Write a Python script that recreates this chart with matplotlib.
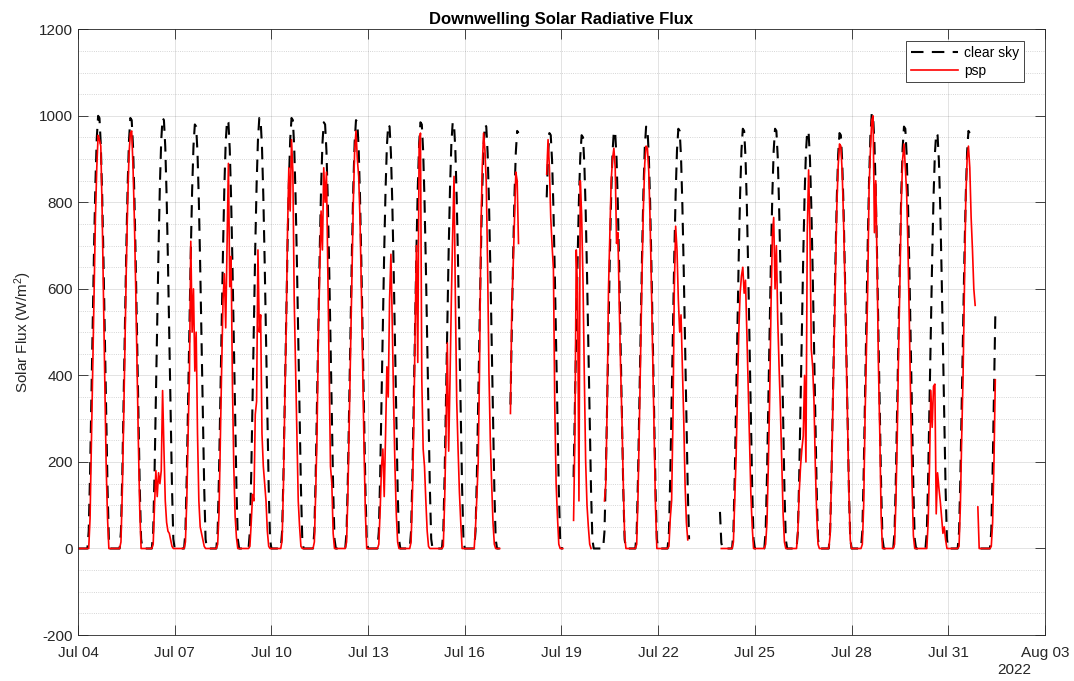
import numpy as np
import pandas as pd
import matplotlib
matplotlib.use('Agg')
import matplotlib.pyplot as plt
import matplotlib.dates as mdates
from matplotlib.ticker import MultipleLocator

plt.rcParams['font.family'] = ['Liberation Sans', 'DejaVu Sans']
plt.rcParams['mathtext.default'] = 'regular'
plt.rcParams['axes.unicode_minus'] = False

nan = np.nan
start = pd.Timestamp('2022-07-04')

# hourly values, hours 07..23 UTC of each day (night hours are 0)
clear_shape = [0, 40, 172, 343, 523, 696, 841, 944, 995, 990, 928, 815, 663, 488, 306, 141, 22]
clear_peak = [1005, 1000, 1000, 985, 995, 1000, 1000, 990, 995, 985,
              990, 990, 985, 970, 965, 960, 970, 980, 975, 600,
              975, 975, 970, 965, 1010, 980, 965, 970, 1030]

psp_jul04 = [0, 0, 70, 245, 420, 590, 765, 880, 955, 945, 930, 780, 575, 380, 190, 70, 0]
psp_jul05 = [0, 15, 130, 295, 480, 650, 800, 910, 960, 965, 880, 760, 600, 420, 240, 90, 0]
psp_jul06 = [0, 10, 100, 180, 120, 175, 150, 180, 365, 230, 110, 60, 40, 35, 20, 5, 0]
psp_jul07 = [0, 15, 110, 265, 405, 710, 500, 600, 410, 500, 265, 110, 50, 35, 20, 5, 0]
psp_jul08 = [0, 10, 80, 250, 420, 575, 635, 510, 700, 890, 605, 675, 380, 190, 75, 25, 0]
psp_jul09 = [0, 5, 60, 125, 110, 310, 340, 690, 500, 540, 265, 190, 150, 110, 40, 5, 0]
psp_jul10 = [0, 20, 150, 340, 500, 730, 880, 780, 945, 870, 575, 420, 265, 110, 50, 5, 0]
psp_jul11 = [0, 15, 130, 265, 500, 640, 780, 690, 880, 800, 870, 650, 420, 190, 150, 35, 0]
psp_jul12 = [0, 15, 130, 300, 480, 640, 800, 920, 965, 900, 860, 760, 600, 420, 230, 80, 0]
psp_jul13 = [0, 10, 90, 190, 230, 120, 260, 420, 350, 575, 680, 520, 340, 190, 80, 15, 0]
psp_jul14 = [0, 15, 120, 280, 500, 700, 430, 930, 960, 390, 230, 190, 110, 40, 5, 0, 0]
psp_jul15 = [0, 5, 110, 265, 475, 225, 390, 575, 730, 860, 575, 340, 230, 130, 60, 0, 0]
psp_jul16 = [0, 50, 120, 200, 420, 730, 880, 960, 920, 845, 650, 405, 250, 150, 60, 10, 0]
psp_jul17 = [nan, nan, nan, 312, 560, 650, 760, 870, 850, 705, nan, nan, nan, nan, nan, nan, nan]
psp_jul18 = [nan, nan, nan, nan, nan, nan, 865, 945, 880, 765, 700, 645, 330, 150, 73, 10, 0]
psp_jul19 = [nan, nan, 65, 265, 690, 590, 110, 850, 770, 620, 400, 200, 100, 50, 10, 0, nan]
psp_jul20 = [nan, 110, 150, 330, 600, 730, 850, 900, 925, 880, 705, 730, 565, 420, 300, 150, 30]
psp_jul21 = [0, 10, 125, 290, 470, 640, 790, 890, 930, 925, 870, 755, 600, 430, 250, 95, 0]
psp_jul22 = [0, 5, 70, 110, 300, 600, 745, 690, 575, 500, 540, 420, 300, 150, 60, 20, nan]
psp_jul23 = [nan, nan, nan, nan, nan, nan, nan, nan, nan, nan, nan, nan, nan, nan, nan, nan, 0]
psp_jul24 = [0, 15, 110, 210, 360, 500, 590, 630, 650, 590, 620, 500, 370, 250, 125, 50, 0]
psp_jul25 = [0, 10, 60, 190, 350, 560, 720, 765, 600, 700, 530, 420, 320, 200, 80, 15, 0]
psp_jul26 = [0, 40, 130, 190, 230, 260, 400, 200, 730, 875, 730, 460, 420, 340, 190, 80, 10]
psp_jul27 = [0, 30, 160, 320, 490, 650, 790, 884, 935, 930, 870, 760, 620, 455, 285, 130, 20]
psp_jul28 = [0, 10, 100, 300, 450, 600, 830, 920, 990, 1000, 730, 850, 650, 420, 265, 73, 0]
psp_jul29 = [0, 10, 110, 260, 460, 620, 800, 900, 935, 880, 820, 690, 520, 330, 150, 30, 0]
psp_jul30 = [0, 0, 60, 190, 365, 280, 375, 380, 80, 175, 140, 110, 73, 35, 50, 20, 0]
psp_jul31 = [0, 5, 100, 260, 400, 600, 805, 900, 930, 880, 765, 690, 600, 562, nan, 96, 0]
psp_aug01 = [0, 5, 60, 200, 390, nan, nan, nan, nan, nan, nan, nan, nan, nan, nan, nan, nan]

psp_days = [psp_jul04, psp_jul05, psp_jul06, psp_jul07, psp_jul08, psp_jul09, psp_jul10,
            psp_jul11, psp_jul12, psp_jul13, psp_jul14, psp_jul15, psp_jul16, psp_jul17,
            psp_jul18, psp_jul19, psp_jul20, psp_jul21, psp_jul22, psp_jul23, psp_jul24,
            psp_jul25, psp_jul26, psp_jul27, psp_jul28, psp_jul29, psp_jul30, psp_jul31,
            psp_aug01]

# missing data (days since Jul 04)
gaps_both = [(13.10, 13.40), (13.69, 14.53), (15.06, 15.37), (18.97, 19.90)]
gaps_clear = [(27.68, 27.97)]
gaps_psp = [(15.93, 16.32)]
data_end = 28.47

t, clear, psp = [], [], []
for d in range(len(psp_days)):
    for h in range(24):
        t.append(d + h / 24)
        if h < 7:
            clear.append(0)
            psp.append(0)
        else:
            clear.append(clear_peak[d] * clear_shape[h - 7] / 1000)
            psp.append(psp_days[d][h - 7])
t = np.array(t)
clear = np.array(clear, dtype=float)
psp = np.array(psp, dtype=float)

for a, b in gaps_both:
    m = (t > a) & (t < b)
    clear[m] = nan
    psp[m] = nan
for a, b in gaps_clear:
    clear[(t > a) & (t < b)] = nan
for a, b in gaps_psp:
    psp[(t > a) & (t < b)] = nan

keep = t <= data_end
time = start + pd.to_timedelta(t[keep], unit='D')
clear = clear[keep]
psp = psp[keep]

fig = plt.figure(figsize=(10.74, 6.81), dpi=100)
ax = fig.add_axes([0.0726, 0.0675, 0.9004, 0.8895])

ax.plot(time, clear, color='k', ls='--', dashes=(6, 4), lw=1.5, label='clear sky')
ax.plot(time, psp, color='r', lw=1.2, label='psp')

ax.set_xlim(start, pd.Timestamp('2022-08-03'))
ax.set_xticks(pd.date_range('2022-07-04', '2022-08-03', freq='3D'))
ax.xaxis.set_major_formatter(mdates.DateFormatter('%b %d'))
ax.set_ylim(-200, 1200)
ax.yaxis.set_major_locator(MultipleLocator(200))
ax.yaxis.set_minor_locator(MultipleLocator(50))

ax.grid(which='major', color='#262626', alpha=0.15, lw=0.6)
ax.grid(which='minor', axis='y', color='#262626', alpha=0.25, ls=':', lw=0.6)
ax.set_axisbelow(True)

ax.tick_params(which='major', direction='in', length=7, width=0.6, top=True, right=True,
               colors='#262626', labelsize=11)
ax.tick_params(axis='x', pad=8)
ax.tick_params(which='minor', length=0)
for s in ax.spines.values():
    s.set_color('#262626')
    s.set_linewidth(0.6)

ax.set_title('Downwelling Solar Radiative Flux', fontsize=12, fontweight='bold', pad=4)
ax.set_ylabel('Solar Flux (W/m$^2$)', fontsize=11, color='#262626', labelpad=4)
fig.text(1014 / 1074, 1 - 670 / 681, '2022', fontsize=11, color='#262626',
         ha='center', va='center')

leg = ax.legend(loc='upper right', bbox_to_anchor=(1 - 21 / 967, 1 - 12 / 606),
                borderaxespad=0, fontsize=10, fancybox=False, framealpha=1,
                edgecolor='#262626', handlelength=3.4, handletextpad=0.4,
                labelspacing=0.25, borderpad=0.35)
leg.get_frame().set_linewidth(0.6)

fig.savefig('out.png', dpi=100)
